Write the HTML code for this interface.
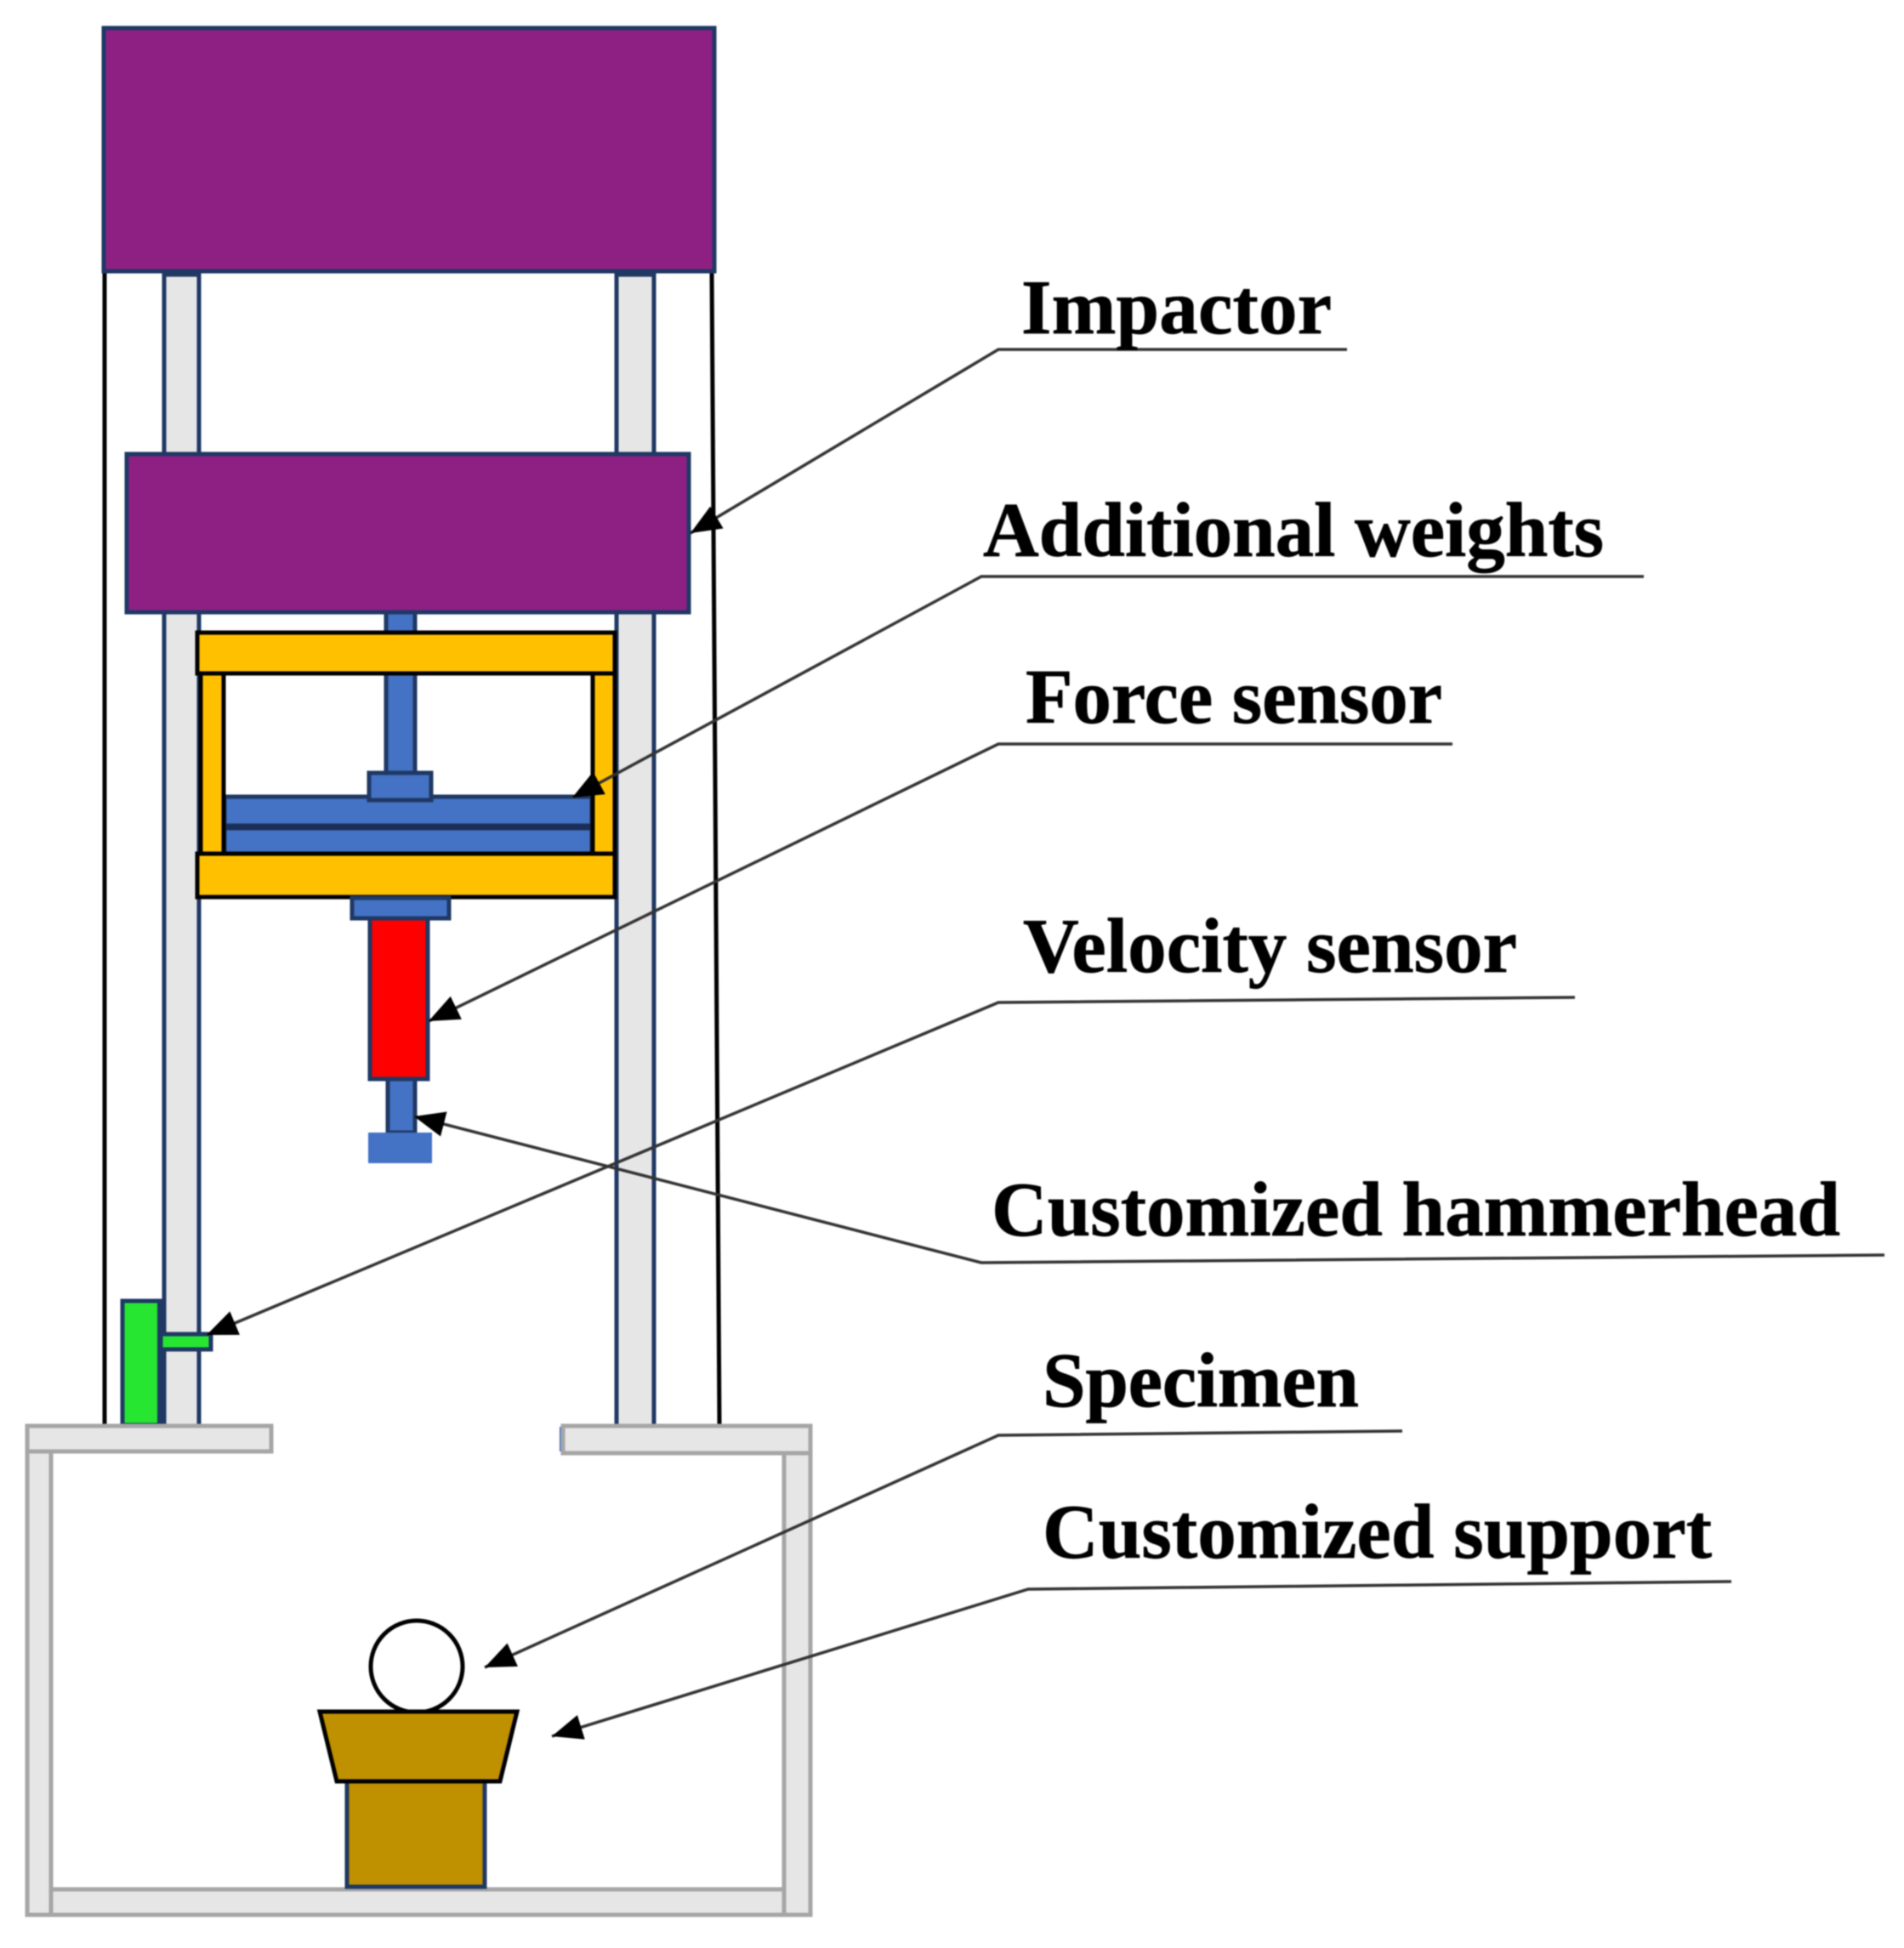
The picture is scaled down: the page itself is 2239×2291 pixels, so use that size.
<!DOCTYPE html>
<html>
<head>
<meta charset="utf-8">
<style>
html,body{margin:0;padding:0;background:#fff;}
svg{display:block;filter:blur(0.8px);}
text{font-family:"Liberation Serif",serif;font-weight:bold;font-size:91px;fill:#000;stroke:#000;stroke-width:0.7;}
.col{fill:#e7e6e6;stroke:none;}
.d{stroke:#1f3864;stroke-width:5;fill:none;}
.p{fill:#8f2083;stroke:#1f3864;stroke-width:5;}
.y{fill:#ffc000;stroke:#000;stroke-width:5;}
.b{fill:#4472c4;stroke:#1f3864;stroke-width:5;}
.g{fill:#e7e6e6;stroke:#a6a6a6;stroke-width:5;}
.l{fill:none;stroke:#333;stroke-width:3.5;marker-end:url(#a);}
</style>
</head>
<body>
<svg width="2239" height="2291" viewBox="0 0 2239 2291" xmlns="http://www.w3.org/2000/svg">
<defs>
<marker id="a" markerUnits="userSpaceOnUse" markerWidth="38" markerHeight="32" refX="36" refY="15" orient="auto">
<path d="M0,0 L36,15 L0,30 z" fill="#000"/>
</marker>
</defs>
<rect width="2239" height="2291" fill="#fff"/>

<!-- columns -->
<rect class="col" x="191" y="323" width="45" height="1352"/>
<path class="d" d="M193,1675V323H234V1675"/>
<rect class="col" x="723" y="323" width="48" height="1352"/>
<path class="d" d="M725,1675V323H769V1675"/>

<!-- frame lines -->
<path d="M123,318V1675" stroke="#000" stroke-width="5" fill="none"/>
<path d="M837,318L846,1675" stroke="#000" stroke-width="5" fill="none"/>

<!-- purple blocks -->
<rect class="p" x="122" y="33" width="718" height="286"/>
<rect class="p" x="149" y="534" width="661" height="186"/>

<!-- rod and plates -->
<rect class="b" x="454" y="720" width="34" height="190"/>
<rect class="b" x="264" y="937" width="432" height="34"/>
<rect class="b" x="264" y="974" width="432" height="30"/>
<rect x="264" y="969" width="432" height="7" fill="#1b2f55"/>
<rect class="b" x="434" y="909" width="73" height="32"/>

<!-- yellow frame -->
<rect class="y" x="236" y="790" width="27" height="216"/>
<rect class="y" x="697" y="790" width="26" height="216"/>
<rect class="y" x="232" y="744" width="491" height="48"/>
<rect class="y" x="232" y="1004" width="491" height="51"/>

<!-- force sensor & hammerhead -->
<rect class="b" x="414" y="1056" width="114" height="24"/>
<rect fill="#ff0000" stroke="#1f3864" stroke-width="5" x="435" y="1080" width="68" height="189"/>
<rect class="b" x="456" y="1269" width="32" height="63"/>
<rect fill="#4472c4" stroke="#4472c4" stroke-width="2" x="434" y="1333" width="73" height="34"/>

<!-- velocity sensor -->
<rect fill="#26e632" stroke="#1f3864" stroke-width="5" x="144" y="1530" width="45" height="146"/>
<rect x="185" y="1530" width="10" height="146" fill="#1f3864"/>
<rect fill="#26e632" stroke="#1f3864" stroke-width="5" x="189" y="1569" width="59" height="18"/>

<!-- base -->
<rect x="658" y="1678" width="6" height="29" fill="#4472c4"/>
<rect class="g" x="32" y="1704" width="28" height="548"/>
<rect class="g" x="922" y="1706" width="31" height="546"/>
<rect class="g" x="60" y="2222" width="862" height="30"/>
<rect class="g" x="32" y="1677" width="287" height="30"/>
<rect class="g" x="662" y="1677" width="291" height="32"/>

<!-- specimen & support -->
<circle cx="490" cy="1960" r="54" fill="#fff" stroke="#000" stroke-width="5"/>
<rect x="408" y="2095" width="162" height="124" fill="#bf9000" stroke="#1f3864" stroke-width="5"/>
<polygon points="376,2013 608,2013 588,2095 396,2095" fill="#bf9000" stroke="#000" stroke-width="5"/>

<!-- leaders -->
<polyline class="l" points="1584,411 1174,411 812,627"/>
<polyline class="l" points="1933,678 1154,678 673,938"/>
<polyline class="l" points="1708,875 1174,875 504,1201"/>
<polyline class="l" points="1852,1173 1174,1179 243,1570"/>
<polyline class="l" points="2216,1476 1154,1485 487,1313"/>
<polyline class="l" points="1649,1683 1174,1688 570,1961"/>
<polyline class="l" points="2036,1860 1209,1869 649,2042"/>

<!-- labels -->
<text x="1201" y="392" textLength="365" lengthAdjust="spacing">Impactor</text>
<text x="1156" y="654" textLength="730" lengthAdjust="spacing">Additional weights</text>
<text x="1206" y="850" textLength="490" lengthAdjust="spacing">Force sensor</text>
<text x="1203" y="1143" textLength="581" lengthAdjust="spacing">Velocity sensor</text>
<text x="1166" y="1453" textLength="998" lengthAdjust="spacing">Customized hammerhead</text>
<text x="1226" y="1654" textLength="372" lengthAdjust="spacing">Specimen</text>
<text x="1226" y="1832" textLength="787" lengthAdjust="spacing">Customized support</text>
</svg>
</body>
</html>
